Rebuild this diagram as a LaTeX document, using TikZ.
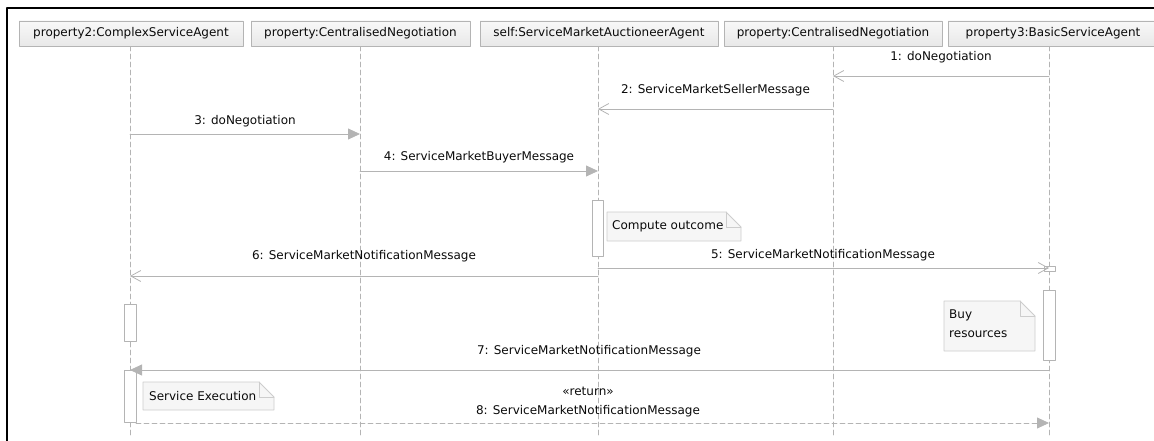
\documentclass[tikz,border=0pt]{standalone}
\usepackage{fontspec}
\setmainfont{DejaVu Sans}
\usetikzlibrary{arrows.meta}
\definecolor{linegray}{RGB}{180,180,180}
\definecolor{headtop}{RGB}{248,248,248}
\definecolor{headbot}{RGB}{232,232,232}
\definecolor{notegray}{RGB}{246,246,246}
\definecolor{notedraw}{RGB}{205,205,205}
\definecolor{txtgray}{RGB}{10,10,10}
\tikzset{
  head/.style={draw=linegray, top color=headtop, bottom color=headbot, minimum height=25, inner sep=0pt, text=txtgray},
  lifeline/.style={draw=linegray, line width=0.8pt, dash pattern=on 5pt off 3pt},
  activ/.style={draw=linegray, line width=0.8pt, fill=white},
  msgopen/.style={draw=linegray, line width=0.8pt, -{Straight Barb[length=10pt,width=11pt]}},
  msgfull/.style={draw=linegray, line width=0.8pt, -{Triangle[length=12pt,width=11pt,fill=linegray]}},
  msgtxt/.style={text=txtgray, inner sep=0pt},
  notetxt/.style={anchor=west, text=txtgray, align=left, inner sep=0pt}
}
% note with folded corner
\newcommand{\notebox}[4]{%
\draw[notedraw, fill=notegray, line width=0.8pt] (#1,#2) -- (#3-15,#2) -- (#3,#2+15) -- (#3,#4) -- (#1,#4) -- cycle;
\draw[notedraw, line width=0.8pt] (#3-15,#2) -- (#3-15,#2+15) -- (#3,#2+15);
}
\begin{document}
\begin{tikzpicture}[line cap=round,line join=round,x=1pt,y=-1pt,font=\fontsize{12}{19}\selectfont]
\useasboundingbox (0,0) rectangle (1154,441);
%kehys
\draw[black, line width=1.3pt] (7,441) -- (7,8) -- (1154,8);

%elamanviivat
\foreach \x/\n in {130/1,360/2,598/3,833/4,1049/5}
{
\coordinate (l\n) at (\x,46);
\draw[lifeline] (l\n) -- (\x,437);
}
\node[head, minimum width=224] (h1) at (131,33.5) {property2:ComplexServiceAgent};
\node[head, minimum width=219] (h2) at (360.5,33.5) {property:CentralisedNegotiation};
\node[head, minimum width=238] (h3) at (599,33.5) {self:ServiceMarketAuctioneerAgent};
\node[head, minimum width=218] (h4) at (833,33.5) {property:CentralisedNegotiation};
\node[head, minimum width=210] (h5) at (1053,33.5) {property3:BasicServiceAgent};

%aktivoinnit
\draw[activ] (592,200) rectangle (603,256);
\draw[activ] (1044,266) rectangle (1055,271);
\draw[activ] (124,304) rectangle (136,341);
\draw[activ] (1043,290) rectangle (1055,360);
\draw[activ] (124,370) rectangle (136,422);

%muistiinpanot
\notebox{607}{212}{741}{241}
\node[notetxt] (n1) at (612,226.5) {Compute outcome};
\notebox{944}{301}{1035}{351}
\node[notetxt] (n2) at (949,323.5) {Buy\\resources};
\notebox{143}{382}{274}{410}
\node[notetxt] (n3) at (149,396) {Service Execution};

%viestit
\draw[msgopen] (l5 |- 0,76) -- (l4 |- 0,76);
\node[msgtxt] (t1) at (941,57) {1: doNegotiation};
\draw[msgopen] (l4 |- 0,109) -- (l3 |- 0,109);
\node[msgtxt] (t2) at (715.5,90) {2: ServiceMarketSellerMessage};
\draw[msgfull] (l1 |- 0,134) -- (l2 |- 0,134);
\node[msgtxt] (t3) at (245,121) {3: doNegotiation};
\draw[msgfull] (l2 |- 0,171) -- (l3 |- 0,171);
\node[msgtxt] (t4) at (479,157) {4: ServiceMarketBuyerMessage};
\draw[msgopen] (l3 |- 0,268) -- (l5 |- 0,268);
\node[msgtxt] (t5) at (823,255) {5: ServiceMarketNotificationMessage};
\draw[msgopen] (l3 |- 0,276) -- (l1 |- 0,276);
\node[msgtxt] (t6) at (364,256) {6: ServiceMarketNotificationMessage};
\draw[msgfull] (l5 |- 0,370) -- (l1 |- 0,370);
\node[msgtxt] (t7) at (589,351) {7: ServiceMarketNotificationMessage};
\draw[msgfull, dash pattern=on 5pt off 3pt] (136,423) -- (l5 |- 0,423);
\node[msgtxt, align=center] (t8) at (588,402.5) {«return»\\8: ServiceMarketNotificationMessage};
\end{tikzpicture}
\end{document}
